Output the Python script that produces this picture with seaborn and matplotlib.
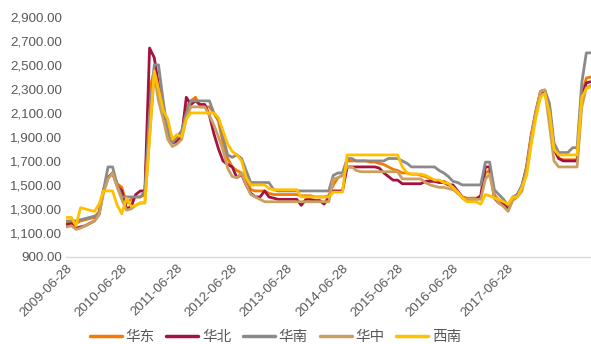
import matplotlib
matplotlib.use("Agg")
import matplotlib.pyplot as plt
import matplotlib.dates as mdates
import matplotlib.ticker as mticker
import seaborn as sns
import pandas as pd
import numpy as np

# monthly readings, 2009-07 .. 2019-01
dates = pd.date_range("2009-07-01", periods=115, freq="MS")

huadong = [1190, 1200, 1180, 1200, 1210, 1220,
           1230, 1280, 1450, 1560, 1600, 1510, 1480, 1350, 1380, 1400, 1400, 1420,
           2300, 2450, 2300, 2150, 1980, 1860, 1870, 1920, 2150, 2200, 2230, 2150,
           2150, 2150, 2100, 2030, 1850, 1720, 1650, 1620, 1600, 1550, 1460, 1450,
           1450, 1450, 1430, 1420, 1420, 1420, 1420, 1420, 1420, 1410, 1410, 1410,
           1400, 1400, 1400, 1410, 1500, 1560, 1580, 1700, 1700, 1700, 1700, 1700,
           1690, 1690, 1680, 1670, 1650, 1630, 1620, 1600, 1600, 1590, 1590, 1580,
           1570, 1550, 1540, 1530, 1530, 1510, 1470, 1430, 1400, 1390, 1390, 1390,
           1400, 1600, 1620, 1420, 1370, 1350, 1320, 1380, 1420, 1490, 1660, 1920,
           2120, 2280, 2290, 2100, 1800, 1720, 1710, 1710, 1710, 1710, 2250, 2390,
           2400]

huabei = [1170, 1180, 1140, 1150, 1160, 1180,
          1200, 1260, 1450, 1560, 1600, 1490, 1450, 1300, 1320, 1420, 1450, 1450,
          2640, 2560, 2330, 2120, 1950, 1850, 1860, 1900, 2230, 2170, 2200, 2170,
          2170, 2080, 1930, 1800, 1700, 1670, 1650, 1560, 1590, 1500, 1430, 1400,
          1400, 1450, 1400, 1390, 1380, 1380, 1380, 1380, 1380, 1330, 1380, 1380,
          1370, 1370, 1340, 1400, 1450, 1450, 1450, 1650, 1650, 1650, 1650, 1650,
          1650, 1650, 1640, 1600, 1570, 1540, 1540, 1510, 1510, 1510, 1510, 1510,
          1530, 1530, 1530, 1520, 1520, 1500, 1500, 1450, 1400, 1380, 1380, 1380,
          1410, 1650, 1650, 1390, 1350, 1340, 1300, 1390, 1420, 1480, 1640, 1900,
          2100, 2270, 2280, 2150, 1800, 1720, 1700, 1700, 1700, 1700, 2230, 2350,
          2360]

huanan = [1200, 1200, 1200, 1210, 1220, 1230,
          1240, 1260, 1450, 1650, 1650, 1500, 1400, 1400, 1400, 1400, 1400, 1450,
          2100, 2500, 2500, 2200, 1950, 1850, 1900, 1950, 2100, 2200, 2200, 2200,
          2200, 2200, 2100, 2050, 1900, 1750, 1730, 1750, 1720, 1620, 1520, 1520,
          1520, 1520, 1520, 1460, 1450, 1450, 1450, 1450, 1450, 1450, 1450, 1450,
          1450, 1450, 1450, 1450, 1580, 1600, 1600, 1720, 1720, 1700, 1700, 1700,
          1700, 1700, 1700, 1700, 1720, 1720, 1720, 1700, 1680, 1650, 1650, 1650,
          1650, 1650, 1650, 1620, 1600, 1570, 1530, 1520, 1500, 1500, 1500, 1500,
          1500, 1690, 1690, 1460, 1420, 1380, 1330, 1400, 1420, 1500, 1640, 1880,
          2100, 2280, 2290, 2180, 1850, 1770, 1770, 1770, 1810, 1810, 2350, 2600,
          2600]

huazhong = [1150, 1160, 1130, 1140, 1160, 1180,
            1200, 1250, 1430, 1550, 1600, 1480, 1380, 1290, 1300, 1330, 1350, 1350,
            1900, 2420, 2200, 2050, 1880, 1820, 1840, 1880, 2050, 2150, 2150, 2150,
            2150, 2080, 2000, 1900, 1790, 1640, 1570, 1560, 1600, 1500, 1420, 1400,
            1380, 1360, 1360, 1360, 1360, 1360, 1360, 1360, 1360, 1360, 1360, 1360,
            1360, 1360, 1360, 1360, 1550, 1560, 1580, 1650, 1650, 1620, 1610, 1610,
            1610, 1610, 1610, 1610, 1610, 1610, 1610, 1550, 1550, 1550, 1550, 1550,
            1520, 1500, 1490, 1480, 1480, 1470, 1460, 1440, 1400, 1380, 1380, 1380,
            1380, 1550, 1590, 1400, 1350, 1320, 1280, 1370, 1400, 1450, 1620, 1900,
            2100, 2280, 2290, 2000, 1700, 1650, 1650, 1650, 1650, 1650, 2150, 2310,
            2330]

xinan = [1230, 1230, 1160, 1310, 1300, 1290,
         1280, 1340, 1450, 1450, 1450, 1330, 1260, 1390, 1320, 1330, 1350, 1350,
         1900, 2450, 2300, 2120, 2050, 1880, 1920, 1900, 2050, 2100, 2100, 2100,
         2100, 2100, 2100, 2060, 1950, 1840, 1780, 1750, 1700, 1560, 1500, 1500,
         1500, 1500, 1470, 1460, 1460, 1460, 1460, 1460, 1460, 1400, 1400, 1400,
         1400, 1400, 1400, 1400, 1440, 1440, 1440, 1750, 1750, 1750, 1750, 1750,
         1750, 1750, 1750, 1750, 1750, 1750, 1750, 1650, 1600, 1590, 1590, 1590,
         1580, 1560, 1540, 1540, 1520, 1510, 1480, 1440, 1390, 1360, 1360, 1360,
         1340, 1420, 1410, 1390, 1380, 1360, 1340, 1400, 1400, 1480, 1580, 1830,
         2060, 2230, 2260, 2100, 1800, 1750, 1750, 1750, 1750, 1750, 2230, 2300,
         2320]

series_names = ["华东", "华北", "华南", "华中", "西南"]
series_vals = [huadong, huabei, huanan, huazhong, xinan]
colors = ["#F47B00", "#A4123F", "#8A8A8A", "#C9A060", "#FFC000"]

tick_dates = pd.to_datetime([f"{y}-06-28" for y in range(2009, 2018)])
y_ticks = list(range(900, 3000, 200))

df = pd.concat([pd.DataFrame({"date": dates, "value": v, "region": n})
                for n, v in zip(series_names, series_vals)], ignore_index=True)

sns.set_theme(style="white")
plt.rcParams["font.family"] = ["Liberation Sans", "Noto Sans CJK SC", "DejaVu Sans"]

fig = plt.figure(figsize=(5.91, 3.44), dpi=100)
ax = fig.add_axes([0.112, 0.253, 0.888, 0.698])

sns.lineplot(data=df, x="date", y="value", hue="region", hue_order=series_names,
             palette=colors, linewidth=2, ax=ax, legend=True)

ax.set_ylim(900, 2900)
ax.set_yticks(y_ticks)
ax.yaxis.set_major_formatter(mticker.FuncFormatter(lambda v, p: f"{v:,.2f}"))
ax.set_xlim(pd.Timestamp("2009-06-28"), pd.Timestamp("2019-01-01"))
ax.set_xticks(tick_dates)
ax.xaxis.set_major_formatter(mdates.DateFormatter("%Y-%m-%d"))
ax.set_xlabel("")
ax.set_ylabel("")

for s in ["top", "right", "left"]:
    ax.spines[s].set_visible(False)
ax.spines["bottom"].set_color("#D9D9D9")
ax.spines["bottom"].set_linewidth(1)
ax.tick_params(axis="both", length=0, colors="#595959")
ax.tick_params(axis="y", pad=3, labelsize=9.6)
for lbl in ax.get_xticklabels():
    lbl.set_rotation(45)
    lbl.set_ha("right")
    lbl.set_rotation_mode("anchor")
    lbl.set_fontsize(9.6)

handles, labels = ax.get_legend_handles_labels()
ax.legend_.remove()
leg = fig.legend(handles, labels, loc="center", bbox_to_anchor=(0.466, 0.02),
                 ncol=5, frameon=False, handlelength=2.2, handletextpad=0.25,
                 columnspacing=0.8, prop={"family": ["Noto Sans CJK SC"], "size": 10.5})
for t in leg.get_texts():
    t.set_color("#595959")
for h in leg.get_lines():
    h.set_linewidth(2.5)

fig.savefig("out.png", dpi=100)
